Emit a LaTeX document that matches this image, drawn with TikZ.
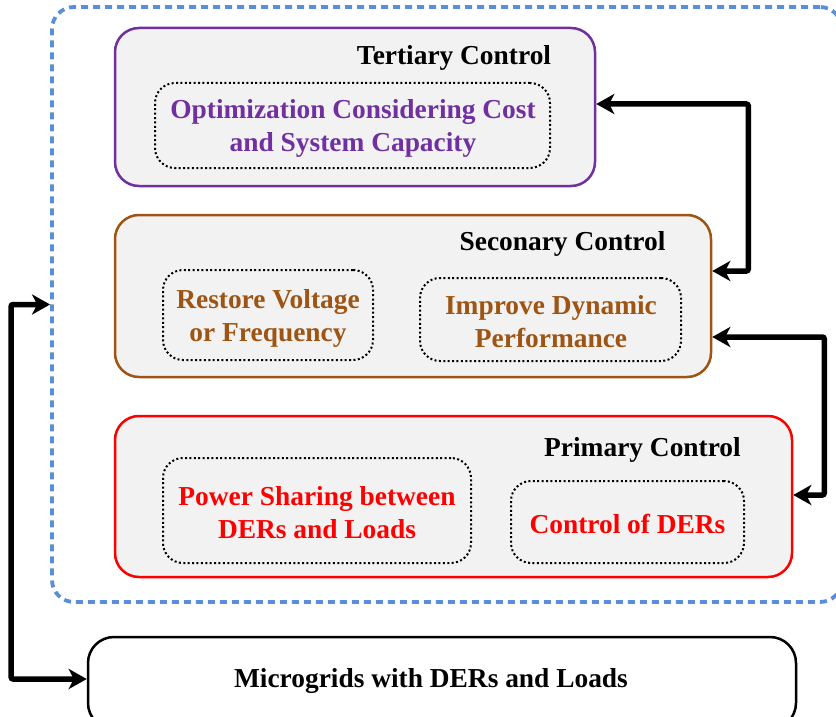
\documentclass[tikz,border=0pt]{standalone}
\usepackage{fontspec}
\setmainfont{Liberation Serif}
\usetikzlibrary{arrows.meta}
\definecolor{tpurple}{HTML}{7030A0}
\definecolor{sbrown}{HTML}{9E5412}
\definecolor{pred}{HTML}{FF0000}
\definecolor{dblue}{HTML}{5B8ED8}
\definecolor{boxfill}{HTML}{F2F2F2}
\tikzset{
  layerbox/.style={draw, line width=2.5pt, fill=boxfill, rounded corners=24pt, inner sep=0pt},
  taskbox/.style={draw=black, line width=2pt, dash pattern=on 2pt off 2.4pt, rounded corners=20pt, inner sep=0pt},
  txt/.style={font=\fontsize{27.4}{33}\selectfont\bfseries, align=center, inner sep=0pt, yshift=-2pt},
  biarr/.style={line width=5.5pt, {Stealth[length=18pt,width=20pt,inset=5pt]}-{Stealth[length=18pt,width=20pt,inset=5pt]}, rounded corners=2pt},
}
\begin{document}
\begin{tikzpicture}[x=1pt,y=-1pt]
\useasboundingbox (0,0) rectangle (836,717);
% outer dashed region
\node[draw=dblue, line width=3.8pt, dash pattern=on 7pt off 5pt, rounded corners=22pt,
      minimum width=790pt, minimum height=595pt, inner sep=0pt] (dash) at (447,304.5) {};
% tertiary
\node[layerbox, draw=tpurple, minimum width=480pt, minimum height=158pt] (tert) at (355,107) {};
\node[txt] (terttitle) at (454,56) {Tertiary Control};
\node[taskbox, minimum width=395pt, minimum height=85pt] (tertin) at (352.5,125.5) {};
\node[txt, text=tpurple] (terttxt) at (353,126) {Optimization Considering Cost\\and System Capacity};
% secondary
\node[layerbox, draw=sbrown, minimum width=596pt, minimum height=162pt] (sec) at (413,296) {};
\node[txt] (sectitle) at (562.5,242) {Seconary Control};
\node[taskbox, minimum width=210pt, minimum height=90pt] (secina) at (268,315) {};
\node[txt, text=sbrown] (sectxta) at (268,316) {Restore Voltage\\or Frequency};
\node[taskbox, minimum width=261pt, minimum height=83pt] (secinb) at (550.5,319.5) {};
\node[txt, text=sbrown] (sectxtb) at (551,319.5) {Improve Dynamic\\Performance};
% primary
\node[layerbox, draw=pred, minimum width=677pt, minimum height=161pt] (prim) at (453.5,496.5) {};
\node[txt] (primtitle) at (642.5,448) {Primary Control};
\node[taskbox, minimum width=308pt, minimum height=105pt] (primina) at (317,510.5) {};
\node[txt, text=pred] (primtxta) at (317,511) {Power Sharing between\\DERs and Loads};
\node[taskbox, minimum width=233pt, minimum height=82pt] (priminb) at (627.5,522) {};
\node[txt, text=pred] (primtxtb) at (627.5,522) {Control of DERs};
% bottom
\node[draw=black, line width=2.5pt, fill=white, rounded corners=26pt, minimum width=708pt, minimum height=92pt, inner sep=0pt] (mg) at (442,683) {};
\node[txt] (mgtxt) at (431,679) {Microgrids with DERs and Loads};
% arrows
\draw[biarr] ([yshift=3pt]tert.east) -- ++(152,0) |- ([yshift=25pt]sec.east);
\draw[biarr] ([yshift=-41pt]sec.east) -- ++(112,0) |- ([yshift=1.5pt]prim.east);
\draw[biarr] (dash.west) -- ++(-39,0) |- ([yshift=4pt]mg.west);
\end{tikzpicture}
\end{document}
